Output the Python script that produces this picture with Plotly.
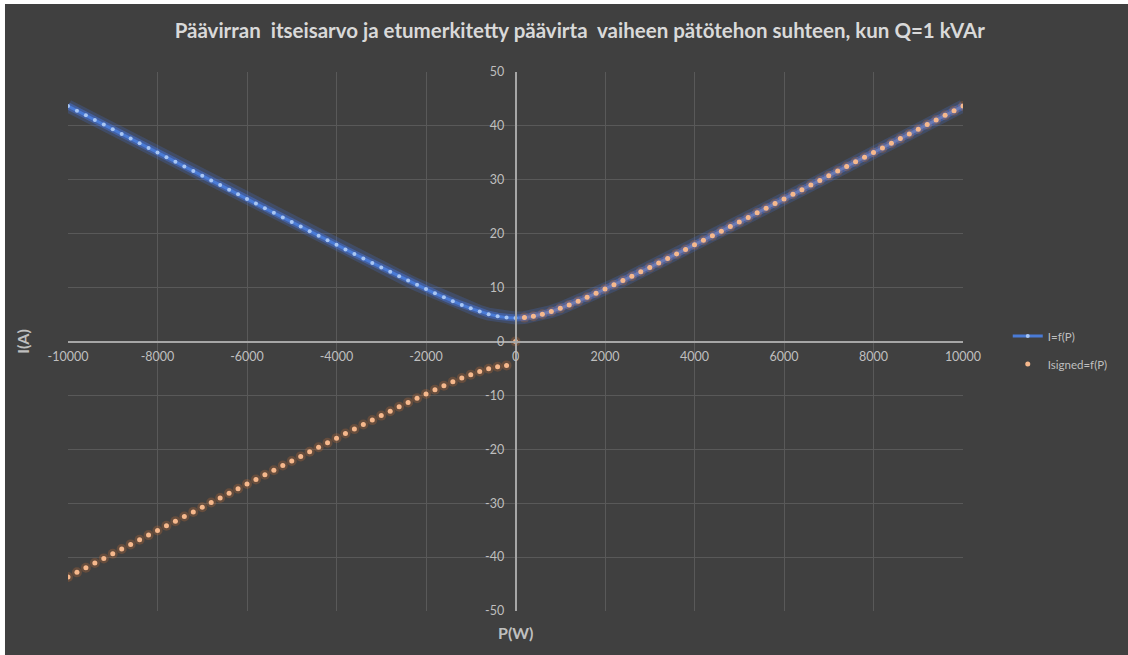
import plotly.graph_objects as go

# Active power of the phase, W
P_W = [-10000, -9800, -9600, -9400, -9200, -9000, -8800, -8600, -8400, -8200,
       -8000, -7800, -7600, -7400, -7200, -7000, -6800, -6600, -6400, -6200,
       -6000, -5800, -5600, -5400, -5200, -5000, -4800, -4600, -4400, -4200,
       -4000, -3800, -3600, -3400, -3200, -3000, -2800, -2600, -2400, -2200,
       -2000, -1800, -1600, -1400, -1200, -1000, -800, -600, -400, -200,
       0,
       200, 400, 600, 800, 1000, 1200, 1400, 1600, 1800, 2000,
       2200, 2400, 2600, 2800, 3000, 3200, 3400, 3600, 3800, 4000,
       4200, 4400, 4600, 4800, 5000, 5200, 5400, 5600, 5800, 6000,
       6200, 6400, 6600, 6800, 7000, 7200, 7400, 7600, 7800, 8000,
       8200, 8400, 8600, 8800, 9000, 9200, 9400, 9600, 9800, 10000]

# Magnitude of the phase current, A
I_abs = [43.70, 42.83, 41.97, 41.10, 40.24, 39.37, 38.51, 37.64, 36.78, 35.92,
         35.05, 34.19, 33.33, 32.47, 31.61, 30.74, 29.88, 29.02, 28.16, 27.31,
         26.45, 25.59, 24.73, 23.88, 23.02, 22.17, 21.32, 20.47, 19.62, 18.77,
         17.93, 17.08, 16.25, 15.41, 14.58, 13.75, 12.93, 12.11, 11.30, 10.51,
         9.72, 8.95, 8.20, 7.48, 6.79, 6.15, 5.57, 5.07, 4.68, 4.43,
         4.35,
         4.43, 4.68, 5.07, 5.57, 6.15, 6.79, 7.48, 8.20, 8.95, 9.72,
         10.51, 11.30, 12.11, 12.93, 13.75, 14.58, 15.41, 16.25, 17.08, 17.93,
         18.77, 19.62, 20.47, 21.32, 22.17, 23.02, 23.88, 24.73, 25.59, 26.45,
         27.31, 28.16, 29.02, 29.88, 30.74, 31.61, 32.47, 33.33, 34.19, 35.05,
         35.92, 36.78, 37.64, 38.51, 39.37, 40.24, 41.10, 41.97, 42.83, 43.70]

# Signed phase current, A
I_signed = [-43.70, -42.83, -41.97, -41.10, -40.24, -39.37, -38.51, -37.64, -36.78, -35.92,
            -35.05, -34.19, -33.33, -32.47, -31.61, -30.74, -29.88, -29.02, -28.16, -27.31,
            -26.45, -25.59, -24.73, -23.88, -23.02, -22.17, -21.32, -20.47, -19.62, -18.77,
            -17.93, -17.08, -16.25, -15.41, -14.58, -13.75, -12.93, -12.11, -11.30, -10.51,
            -9.72, -8.95, -8.20, -7.48, -6.79, -6.15, -5.57, -5.07, -4.68, -4.43,
            0.00,
            4.43, 4.68, 5.07, 5.57, 6.15, 6.79, 7.48, 8.20, 8.95, 9.72,
            10.51, 11.30, 12.11, 12.93, 13.75, 14.58, 15.41, 16.25, 17.08, 17.93,
            18.77, 19.62, 20.47, 21.32, 22.17, 23.02, 23.88, 24.73, 25.59, 26.45,
            27.31, 28.16, 29.02, 29.88, 30.74, 31.61, 32.47, 33.33, 34.19, 35.05,
            35.92, 36.78, 37.64, 38.51, 39.37, 40.24, 41.10, 41.97, 42.83, 43.70]

X_TICKS = [-10000, -8000, -6000, -4000, -2000, 0, 2000, 4000, 6000, 8000, 10000]
Y_TICKS = [-50, -40, -30, -20, -10, 0, 10, 20, 30, 40, 50]

BG = "#404040"
GRID = "#595959"
AXIS = "#a6a6a6"
TEXT = "#bfbfbf"
FONT = "Lato"

fig = go.Figure()

# soft glow under the blue line
fig.add_trace(go.Scatter(x=P_W, y=I_abs, mode="lines", showlegend=False, hoverinfo="skip",
                         line=dict(color="rgba(70,120,230,0.22)", width=13)))
fig.add_trace(go.Scatter(x=P_W, y=I_abs, mode="lines", showlegend=False, hoverinfo="skip",
                         line=dict(color="rgba(70,120,230,0.45)", width=7)))
fig.add_trace(go.Scatter(x=P_W, y=I_abs, mode="lines+markers", name="I=f(P)", legendgroup="a",
                         line=dict(color="#4a7bd6", width=3),
                         marker=dict(color="#a8c6f4", size=4, line=dict(width=0))))

# soft glow under the orange points
fig.add_trace(go.Scatter(x=P_W, y=I_signed, mode="markers", showlegend=False, hoverinfo="skip",
                         marker=dict(color="rgba(237,125,49,0.22)", size=10, line=dict(width=0))))
fig.add_trace(go.Scatter(x=P_W, y=I_signed, mode="markers", name="Isigned=f(P)", legendgroup="b",
                         marker=dict(color="#f6b88c", size=5, line=dict(width=0))))

axis_common = dict(
    showgrid=True, gridcolor=GRID, gridwidth=1,
    zeroline=False, showline=True, linecolor=AXIS, linewidth=1.5,
    ticks="", tickfont=dict(family=FONT, size=12.5, color=TEXT),
    anchor="free", position=0.5,
)

fig.update_xaxes(range=[-10000, 10000], tickvals=X_TICKS, ticktext=[str(v) for v in X_TICKS],
                 ticklabelstandoff=4, **axis_common)
fig.update_yaxes(range=[-50, 50], tickvals=Y_TICKS, ticktext=[str(v) for v in Y_TICKS],
                 ticklabelstandoff=8, **axis_common)

fig.update_layout(
    width=1128, height=655,
    margin=dict(l=68, r=165, t=72, b=44),
    paper_bgcolor=BG, plot_bgcolor=BG,
    title=dict(text="<b>Päävirran  itseisarvo ja etumerkitetty päävirta  vaiheen pätötehon suhteen, kun Q=1 kVAr</b>",
               x=0.514, xanchor="center", y=0.953, yanchor="middle",
               font=dict(family=FONT, size=20.5, color="#d9d9d9")),
    legend=dict(x=1.05, y=0.484, xanchor="left", yanchor="middle",
                bgcolor="rgba(0,0,0,0)", font=dict(family=FONT, size=11.5, color=TEXT),
                tracegroupgap=9, itemwidth=30),
    annotations=[
        dict(text="<b>P(W)</b>", xref="paper", yref="paper", x=0.5, y=-0.04,
             xanchor="center", yanchor="middle", showarrow=False,
             font=dict(family=FONT, size=16, color=TEXT)),
        dict(text="<b>I(A)</b>", xref="paper", yref="paper", x=-0.051, y=0.5,
             xanchor="center", yanchor="middle", textangle=-90, showarrow=False,
             font=dict(family=FONT, size=16, color=TEXT)),
    ],
    shapes=[
        # thin light frame strips along the top and left edges
        dict(type="rect", xref="paper", yref="paper", x0=-0.2, x1=1.3, y0=1.1262, y1=1.2,
             fillcolor="#ffffff", line=dict(width=0), layer="above"),
        dict(type="rect", xref="paper", yref="paper", x0=-0.2, x1=-0.0704, y0=-0.2, y1=1.2,
             fillcolor="#ffffff", line=dict(width=0), layer="above"),
    ],
    showlegend=True,
)

fig.write_html("out.html")
